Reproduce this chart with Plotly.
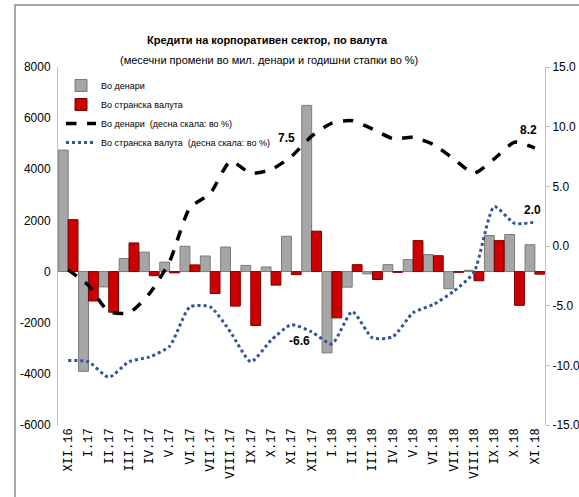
import plotly.graph_objects as go

categories = ["XII.16", "I.17", "II.17", "III.17", "IV.17", "V.17", "VI.17", "VII.17",
              "VIII.17", "IX.17", "X.17", "XI.17", "XII.17", "I.18", "II.18", "III.18",
              "IV.18", "V.18", "VI.18", "VII.18", "VIII.18", "IX.18", "X.18", "XI.18"]

denar_change = [4750, -3900, -600, 510, 760, 370, 990, 610, 960, 240, 180, 1380,
                6500, -3180, -610, -90, 270, 470, 660, -670, 50, 1410, 1450, 1050]
foreign_change = [2030, -1150, -1590, 1120, -160, -50, 260, -860, -1350, -2110, -530, -120,
                  1580, -1810, 270, -310, -30, 1210, 620, -30, -360, 1210, -1320, -100]
denar_growth = [-2.0, -3.3, -5.5, -5.6, -4.0, -1.3, 3.2, 4.4, 7.1, 6.1, 6.4, 7.5,
                9.2, 10.3, 10.5, 9.8, 9.0, 9.1, 8.5, 7.3, 6.1, 7.3, 8.7, 8.2]
foreign_growth = [-9.6, -9.7, -11.0, -9.7, -9.3, -8.4, -5.1, -5.1, -7.2, -9.7, -7.9, -6.6,
                  -7.2, -8.2, -5.5, -7.7, -7.6, -5.6, -4.9, -3.8, -2.2, 3.3, 1.9, 2.0]

left_ticks = [-6000, -4000, -2000, 0, 2000, 4000, 6000, 8000]
right_ticks = [-15, -10, -5, 0, 5, 10, 15]

# labelled points: (index, x-shift px, y-shift px)
denar_labels = [(11, -5, 19), (23, -6, 18)]
foreign_labels = [(11, 8, -16), (23, -2, 12)]

FONT = "Liberation Sans Narrow, Arial Narrow, Liberation Sans, sans-serif"

W, H = 579, 497
ML, MR, MT, MB = 58, 34, 67, 72
PW, PH = W - ML - MR, H - MT - MB

def px_x(x):
    return (x - ML) / PW

def px_y(y):
    return (MT + PH - y) / PH

fig = go.Figure()
fig.add_trace(go.Bar(x=categories, y=denar_change, name="Во денари",
                     marker=dict(color="#a6a6a6", line=dict(color="#7a7a7a", width=1))))
fig.add_trace(go.Bar(x=categories, y=foreign_change, name="Во странска валута",
                     marker=dict(color="#cc0000", line=dict(color="#7a0000", width=1))))
fig.add_trace(go.Scatter(x=categories, y=denar_growth, yaxis="y2",
                         name="Во денари  (десна скала: во %)", mode="lines",
                         line=dict(color="black", width=3.5, dash="dash", shape="spline", smoothing=0.6)))
fig.add_trace(go.Scatter(x=categories, y=foreign_growth, yaxis="y2",
                         name="Во странска валута  (десна скала: во %)", mode="lines",
                         line=dict(color="#2f5597", width=3, dash="dot", shape="spline", smoothing=0.6)))

annotations = [
    dict(text="<b>Кредити на корпоративен сектор, по валута</b>", x=px_x(267), y=px_y(40),
         xref="paper", yref="paper", xanchor="center", yanchor="middle",
         showarrow=False, font=dict(size=11)),
    dict(text="(месечни промени во мил. денари и годишни стапки во %)", x=px_x(269), y=px_y(60),
         xref="paper", yref="paper", xanchor="center", yanchor="middle",
         showarrow=False, font=dict(size=11)),
]
for series, lab in ((denar_growth, denar_labels), (foreign_growth, foreign_labels)):
    for i, dx, dy in lab:
        annotations.append(dict(text=f"<b>{series[i]:.1f}</b>", x=categories[i], y=series[i],
                                xref="x", yref="y2", xshift=dx, yshift=dy, showarrow=False,
                                xanchor="center", yanchor="middle",
                                font=dict(size=12, color="black")))

fig.update_layout(
    width=W, height=H,
    margin=dict(l=ML, r=MR, t=MT, b=MB, autoexpand=False),
    paper_bgcolor="white", plot_bgcolor="white",
    font=dict(family=FONT, size=12, color="black"),
    barmode="group", bargap=0.03, bargroupgap=0,
    showlegend=True,
    legend=dict(x=px_x(61), y=px_y(71), xanchor="left", yanchor="top",
                bgcolor="rgba(0,0,0,0)", font=dict(family=FONT, size=9),
                tracegroupgap=0, itemwidth=30),
    xaxis=dict(type="category", tickangle=-90, showline=False, ticks="", automargin=False,
               tickfont=dict(family="Liberation Mono, DejaVu Sans Mono, monospace", size=12),
               showgrid=False, zeroline=False),
    yaxis=dict(range=[-6000, 8000], tickvals=left_ticks, ticktext=[str(v) for v in left_ticks],
               showline=True, linecolor="#bfbfbf", linewidth=1, ticks="", automargin=False,
               ticklabelstandoff=4,
               showgrid=False, zeroline=False, tickfont=dict(family=FONT, size=12)),
    yaxis2=dict(range=[-15, 15], tickvals=right_ticks, ticktext=[f"{v:.1f}" for v in right_ticks],
                overlaying="y", side="right", showline=True, linecolor="#bfbfbf", linewidth=1,
                ticks="outside", ticklen=4, tickcolor="#bfbfbf", automargin=False,
                showgrid=False, zeroline=False, tickfont=dict(family=FONT, size=12)),
    annotations=annotations,
)
fig.add_shape(type="rect", xref="paper", yref="paper",
              x0=px_x(15), x1=1.5, y0=-0.6, y1=px_y(5),
              line=dict(color="#8c8c8c", width=1.5), fillcolor="rgba(0,0,0,0)", layer="below")

fig.write_html("out.html", config={"displayModeBar": False},
               post_script="document.body.style.margin='0';document.body.style.padding='0';")
